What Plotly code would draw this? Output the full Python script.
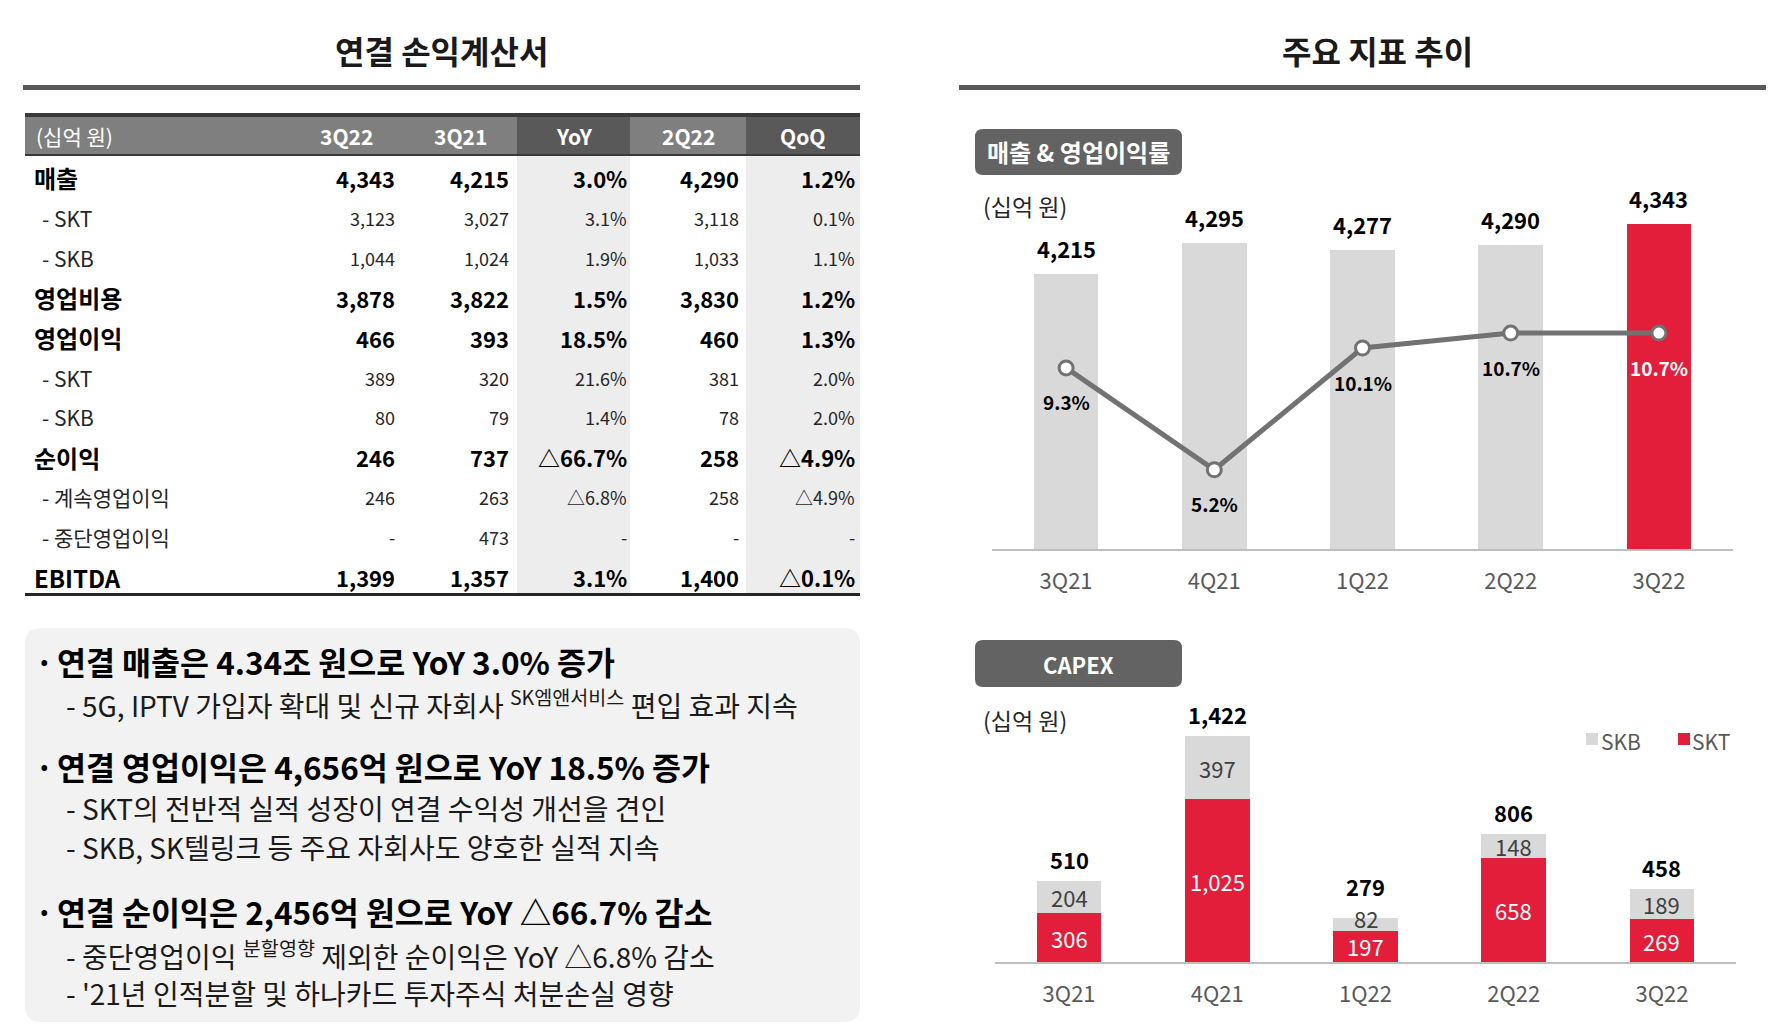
import plotly.graph_objects as go

W, H = 1774, 1028
OFF = 8  # page body margin
FONT = "Noto Sans CJK KR"
RED = "#E21E3A"
LIGHT = "#D9D9D9"

# ---- table data (십억 원) ----
table_header = ["(십억 원)", "3Q22", "3Q21", "YoY", "2Q22", "QoQ"]
row_labels = ["매출", "- SKT", "- SKB", "영업비용", "영업이익", "- SKT", "- SKB",
              "순이익", "- 계속영업이익", "- 중단영업이익", "EBITDA"]
row_is_total = [1, 0, 0, 1, 1, 0, 0, 1, 0, 0, 1]
col_3q22 = ["4,343", "3,123", "1,044", "3,878", "466", "389", "80", "246", "246", "-", "1,399"]
col_3q21 = ["4,215", "3,027", "1,024", "3,822", "393", "320", "79", "737", "263", "473", "1,357"]
col_yoy = ["3.0%", "3.1%", "1.9%", "1.5%", "18.5%", "21.6%", "1.4%", "△66.7%", "△6.8%", "-", "3.1%"]
col_2q22 = ["4,290", "3,118", "1,033", "3,830", "460", "381", "78", "258", "258", "-", "1,400"]
col_qoq = ["1.2%", "0.1%", "1.1%", "1.2%", "1.3%", "2.0%", "2.0%", "△4.9%", "△4.9%", "-", "△0.1%"]

# ---- summary text ----
bullets = [
    ("연결 매출은 4.34조 원으로 YoY 3.0% 증가",
     ["- 5G, IPTV 가입자 확대 및 신규 자회사 <sup>SK엠앤서비스</sup> 편입 효과 지속"]),
    ("연결 영업이익은 4,656억 원으로 YoY 18.5% 증가",
     ["- SKT의 전반적 실적 성장이 연결 수익성 개선을 견인",
      "- SKB, SK텔링크 등 주요 자회사도 양호한 실적 지속"]),
    ("연결 순이익은 2,456억 원으로 YoY △66.7% 감소",
     ["- 중단영업이익 <sup>분할영향</sup> 제외한 순이익은 YoY △6.8% 감소",
      "- '21년 인적분할 및 하나카드 투자주식 처분손실 영향"]),
]

# ---- chart data ----
quarters = ["3Q21", "4Q21", "1Q22", "2Q22", "3Q22"]
revenue = [4215, 4295, 4277, 4290, 4343]
op_margin = [9.3, 5.2, 10.1, 10.7, 10.7]
capex_skt = [306, 1025, 197, 658, 269]
capex_skb = [204, 397, 82, 148, 189]
capex_total = [510, 1422, 279, 806, 458]

FW, FH = W - OFF, H - OFF


def X(v):
    return (v - OFF) / FW


def Y(v):
    return 1 - (v - OFF) / FH


def rect(x0, y0, x1, y1, color):
    return dict(type="rect", xref="paper", yref="paper", x0=X(x0), x1=X(x1),
                y0=Y(y1), y1=Y(y0), fillcolor=color, line_width=0, layer="below")


def rounded(x0, y0, x1, y1, r, color):
    rx, ry = r / FW, r / FH
    a, b, c, d = X(x0), Y(y0), X(x1), Y(y1)
    path = (f"M {a+rx},{b} L {c-rx},{b} Q {c},{b} {c},{b-ry} "
            f"L {c},{d+ry} Q {c},{d} {c-rx},{d} L {a+rx},{d} Q {a},{d} {a},{d+ry} "
            f"L {a},{b-ry} Q {a},{b} {a+rx},{b} Z")
    return dict(type="path", xref="paper", yref="paper", path=path,
                fillcolor=color, line_width=0, layer="below")


def note(x, y, text, size, color="#000", xanchor="center", bold=False, **kw):
    if bold:
        text = f"<b>{text}</b>"
    return dict(xref="paper", yref="paper", x=X(x), y=Y(y), text=text, showarrow=False,
                xanchor=xanchor, yanchor="middle", font=dict(family=FONT, size=size, color=color), **kw)


shapes = []
annotations = []

# titles and rules
annotations.append(note(441, 50, "연결 손익계산서", 32, "#1a1a1a", bold=True))
annotations.append(note(1377, 50, "주요 지표 추이", 32, "#1a1a1a", bold=True))
shapes.append(rect(23, 85, 860, 90, "#595959"))
shapes.append(rect(959, 85, 1774, 90, "#595959"))

# ---- table ----
shapes.append(rect(25, 116, 517, 155, "#7F7F7F"))
shapes.append(rect(517, 116, 630, 155, "#595959"))
shapes.append(rect(630, 116, 746, 155, "#7F7F7F"))
shapes.append(rect(746, 116, 860, 155, "#595959"))
shapes.append(rect(25, 113, 860, 117, "#3A3A3A"))
shapes.append(rect(25, 154, 860, 156, "#3A3A3A"))
shapes.append(rect(517, 156, 630, 593, "#EDEDED"))
shapes.append(rect(746, 156, 860, 593, "#EDEDED"))
shapes.append(rect(25, 593, 860, 596, "#262626"))

header_x = [34, 346, 460, 574, 688, 803]
annotations.append(note(header_x[0], 136, table_header[0], 21, "white", xanchor="left"))
for hx, ht in zip(header_x[1:], table_header[1:]):
    annotations.append(note(hx, 136, ht, 21, "white", bold=True))

row_y0, row_dy = 178, 39.9
col_right = [397, 511, 629, 741, 857]
columns = [col_3q22, col_3q21, col_yoy, col_2q22, col_qoq]
for i, label in enumerate(row_labels):
    yy = row_y0 + i * row_dy
    tot = row_is_total[i]
    size = 22 if tot else 18
    color = "#000" if tot else "#262626"
    annotations.append(note(32 if tot else 40, yy, label, 24 if tot else 21, color,
                            xanchor="left", bold=bool(tot)))
    for cx, col in zip(col_right, columns):
        annotations.append(note(cx, yy, col[i], size, color, xanchor="right", bold=bool(tot)))

# ---- summary box ----
shapes.append(rounded(25, 628, 860, 1022, 16, "#F2F2F2"))
bullet_y = [661, 766, 911]
sub_y = [[703], [808, 847], [954, 993]]
for (head, subs), by, sys_ in zip(bullets, bullet_y, sub_y):
    annotations.append(note(33, by, "·", 31.5, "#000", xanchor="left", bold=True))
    annotations.append(note(55, by, head, 31.5, "#000", xanchor="left", bold=True))
    for s, sy in zip(subs, sys_):
        annotations.append(note(64, sy, s, 28, "#1a1a1a", xanchor="left"))

# ---- badges ----
shapes.append(rounded(975, 129, 1182, 175, 8, "#636363"))
annotations.append(note(1078, 152, "매출 & 영업이익률", 24, "white", bold=True))
shapes.append(rounded(975, 640, 1182, 687, 8, "#636363"))
annotations.append(note(1078, 664, "CAPEX", 22, "white", bold=True))
annotations.append(note(981, 206, "(십억 원)", 23, "#262626", xanchor="left"))
annotations.append(note(981, 720, "(십억 원)", 23, "#262626", xanchor="left"))

# legend for capex
shapes.append(rect(1586, 733, 1598, 745, LIGHT))
annotations.append(note(1599, 741, "SKB", 21, "#595959", xanchor="left"))
shapes.append(rect(1678, 733, 1690, 745, RED))
annotations.append(note(1690, 741, "SKT", 21, "#595959", xanchor="left"))

fig = go.Figure()

# revenue bars + margin line
fig.add_trace(go.Bar(x=quarters, y=revenue, width=0.435,
                     marker=dict(color=[LIGHT] * 4 + [RED], line_width=0),
                     xaxis="x", yaxis="y", showlegend=False, hoverinfo="skip"))
fig.add_trace(go.Scatter(x=quarters, y=op_margin, mode="lines+markers",
                         line=dict(color="#727272", width=5),
                         marker=dict(size=14, color="white", line=dict(color="#727272", width=3)),
                         xaxis="x", yaxis="y2", showlegend=False, hoverinfo="skip"))
for q, v in zip(quarters, revenue):
    annotations.append(dict(x=q, y=v, xref="x", yref="y", text=f"<b>{v:,}</b>", showarrow=False,
                            yanchor="bottom", yshift=8, font=dict(family=FONT, size=22, color="#000")))
for i, (q, m) in enumerate(zip(quarters, op_margin)):
    annotations.append(dict(x=q, y=m, xref="x", yref="y2", text=f"<b>{m}%</b>", showarrow=False,
                            yanchor="middle", yshift=-34,
                            font=dict(family=FONT, size=19, color="white" if i == 4 else "#000")))

# capex stacked bars
fig.add_trace(go.Bar(x=quarters, y=capex_skt, width=0.435, name="SKT",
                     marker=dict(color=RED, line_width=0),
                     xaxis="x3", yaxis="y3", showlegend=False, hoverinfo="skip"))
fig.add_trace(go.Bar(x=quarters, y=capex_skb, width=0.435, name="SKB",
                     marker=dict(color=LIGHT, line_width=0),
                     xaxis="x3", yaxis="y3", showlegend=False, hoverinfo="skip"))
for q, a, b, t in zip(quarters, capex_skt, capex_skb, capex_total):
    small = b < 120  # thin SKB segment: nudge labels up
    annotations.append(dict(x=q, y=a / 2, xref="x3", yref="y3", text=f"{a:,}", showarrow=False,
                            font=dict(family=FONT, size=22, color="white")))
    annotations.append(dict(x=q, y=a + b / 2, xref="x3", yref="y3", text=f"{b:,}", showarrow=False,
                            yshift=6 if small else 0,
                            font=dict(family=FONT, size=22, color="#404040")))
    annotations.append(dict(x=q, y=t, xref="x3", yref="y3", text=f"<b>{t:,}</b>", showarrow=False,
                            yanchor="bottom", yshift=14 if small else 4,
                            font=dict(family=FONT, size=22, color="#000")))

xcommon = dict(type="category", range=[-0.5, 4.5], showline=True, linecolor="#BFBFBF",
               linewidth=2, showgrid=False, zeroline=False, ticks="",
               tickfont=dict(family=FONT, size=22, color="#595959"), ticklabelstandoff=12,
               fixedrange=True)
ycommon = dict(showgrid=False, zeroline=False, showticklabels=False, showline=False, fixedrange=True)

fig.update_layout(
    width=FW, height=FH, margin=dict(l=0, r=0, t=0, b=0), autosize=False,
    paper_bgcolor="white", plot_bgcolor="rgba(0,0,0,0)",
    barmode="stack", showlegend=False,
    xaxis=dict(domain=[X(992), X(1733)], anchor="y", **xcommon),
    yaxis=dict(domain=[Y(549), Y(190)], range=[3508, 4431], **ycommon),
    yaxis2=dict(overlaying="y", range=[2.01, 16.46], anchor="x", **ycommon),
    xaxis3=dict(domain=[X(995), X(1736)], anchor="y3", **xcommon),
    yaxis3=dict(domain=[Y(962), Y(700)], range=[0, 1652], **ycommon),
    shapes=shapes, annotations=annotations,
    font=dict(family=FONT),
)

fig.write_html("out.html")
